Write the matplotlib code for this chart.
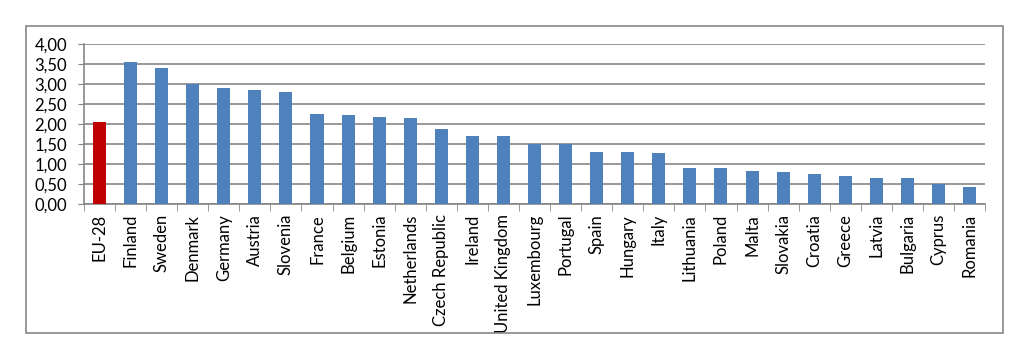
import numpy as np
import matplotlib.pyplot as plt
from matplotlib.patches import Rectangle
from matplotlib.ticker import FuncFormatter, FixedLocator

# countries and values
countries = ["EU-28", "Finland", "Sweden", "Denmark", "Germany", "Austria", "Slovenia",
             "France", "Belgium", "Estonia", "Netherlands", "Czech Republic", "Ireland",
             "United Kingdom", "Luxembourg", "Portugal", "Spain", "Hungary", "Italy",
             "Lithuania", "Poland", "Malta", "Slovakia", "Croatia", "Greece", "Latvia",
             "Bulgaria", "Cyprus", "Romania"]
values = [2.04, 3.55, 3.40, 3.00, 2.91, 2.85, 2.80, 2.25, 2.23, 2.18, 2.15, 1.87, 1.71,
          1.71, 1.50, 1.50, 1.30, 1.30, 1.27, 0.89, 0.89, 0.83, 0.81, 0.74, 0.70, 0.66,
          0.64, 0.50, 0.43]
yticks = [0, 0.5, 1.0, 1.5, 2.0, 2.5, 3.0, 3.5, 4.0]

plt.rcParams['font.family'] = ['Lato', 'DejaVu Sans']

fig = plt.figure(figsize=(10.24, 3.53), dpi=100)
ax = fig.add_axes([0.082, 0.422, 0.880, 0.453])

grey = "#868686"
colors = ["#C00000"] + ["#4F81BD"] * (len(countries) - 1)
x = np.arange(len(countries))
ax.bar(x, values, width=0.42, color=colors, zorder=3)

ax.set_xlim(-0.5, len(countries) - 0.5)
ax.set_ylim(0, 4)
ax.set_yticks(yticks)
ax.yaxis.set_major_formatter(FuncFormatter(lambda v, p: f"{v:.2f}".replace(".", ",")))
ax.yaxis.grid(True, color=grey, linewidth=1.2, zorder=0)

ax.set_xticks(x)
ax.set_xticklabels(countries, rotation=90)
ax.xaxis.set_minor_locator(FixedLocator(np.arange(-0.5, len(countries), 1.0)))
ax.tick_params(axis='x', which='major', length=0, pad=7, labelsize=12, colors='black')
ax.tick_params(axis='x', which='minor', length=5, color=grey, direction='out')
ax.tick_params(axis='y', length=4, color=grey, pad=8, labelsize=12)

for s in ["top", "right"]:
    ax.spines[s].set_visible(False)
for s in ["left", "bottom"]:
    ax.spines[s].set_color(grey)
    ax.spines[s].set_linewidth(1.2)

# outer chart border
fig.patches.append(Rectangle((0.0254, 0.0567), 0.9541, 0.8693, transform=fig.transFigure,
                             fill=False, edgecolor=grey, linewidth=1.2))

fig.savefig("out.png", dpi=100)
